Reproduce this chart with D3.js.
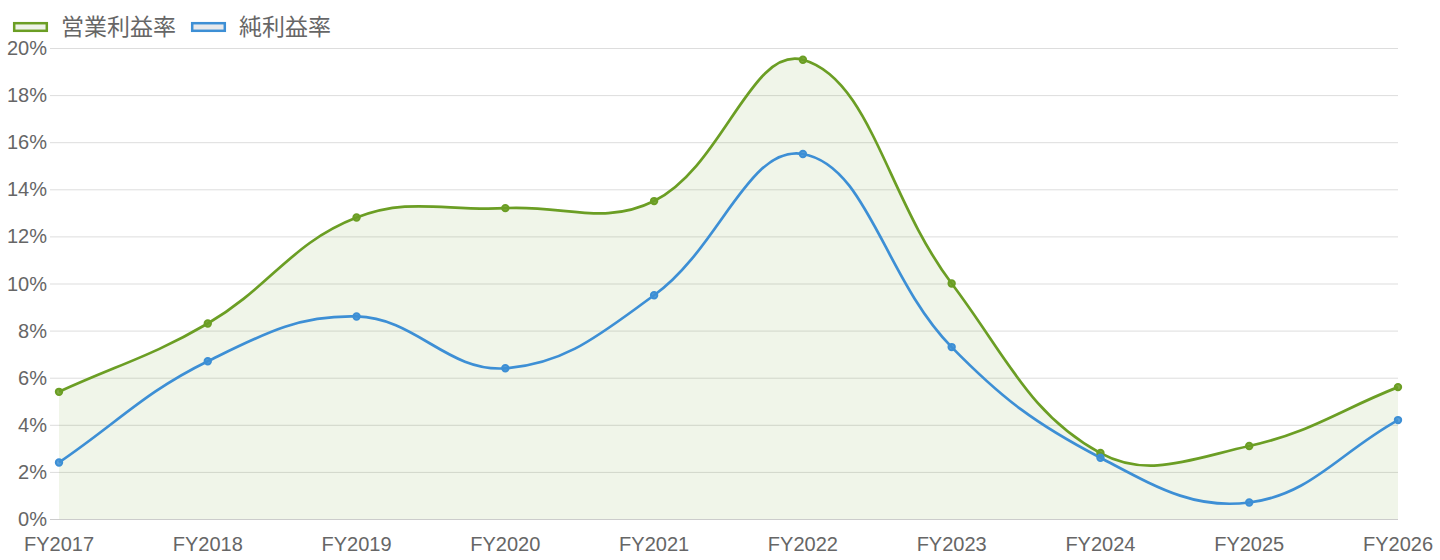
<!DOCTYPE html>
<html>
<head>
<meta charset="utf-8">
<script src="https://cdn.jsdelivr.net/npm/d3@7"></script>
<style>
  body { margin: 0; background: #fff; }
  svg { display: block; font-family: "Liberation Sans", Helvetica, Arial, "Noto Sans CJK JP", sans-serif; }
  .axis text { fill: #666; font-size: 20px; }
</style>
</head>
<body>
<svg id="chart"></svg>
<script>
const years = ['FY2017', 'FY2018', 'FY2019', 'FY2020', 'FY2021', 'FY2022', 'FY2023', 'FY2024', 'FY2025', 'FY2026'];
const operatingMargin = [5.4, 8.3, 12.8, 13.2, 13.5, 19.5, 10.0, 2.8, 3.1, 5.6];
const netMargin = [2.4, 6.7, 8.6, 6.4, 9.5, 15.5, 7.3, 2.6, 0.7, 4.2];
const yTicks = [0, 2, 4, 6, 8, 10, 12, 14, 16, 18, 20];
const seriesNames = ['営業利益率', '純利益率'];

const width = 1440;
const height = 560;
const margin = { top: 48, right: 42, bottom: 41, left: 59 };
const green = '#6b9e24';
const blue = '#3d8fd5';

const svg = d3.select('#chart').attr('width', width).attr('height', height);

const xScale = d3.scalePoint().domain(years).range([margin.left, width - margin.right]);
const yScale = d3.scaleLinear().domain([0, 20]).range([height - margin.bottom, margin.top]);

// chart.js style bezier (tension 0.4)
function splinePath(pts, tension, ctx) {
  const n = pts.length;
  const cps = pts.map((p, i) => {
    const prev = pts[Math.max(i - 1, 0)];
    const next = pts[Math.min(i + 1, n - 1)];
    const d01 = Math.hypot(p[0] - prev[0], p[1] - prev[1]);
    const d12 = Math.hypot(next[0] - p[0], next[1] - p[1]);
    let s01 = d01 / (d01 + d12);
    let s12 = d12 / (d01 + d12);
    if (isNaN(s01)) s01 = 0;
    if (isNaN(s12)) s12 = 0;
    const fa = tension * s01;
    const fb = tension * s12;
    return {
      prev: [p[0] - fa * (next[0] - prev[0]), p[1] - fa * (next[1] - prev[1])],
      next: [p[0] + fb * (next[0] - prev[0]), p[1] + fb * (next[1] - prev[1])]
    };
  });
  ctx.moveTo(pts[0][0], pts[0][1]);
  for (let i = 1; i < n; i++) {
    ctx.bezierCurveTo(cps[i - 1].next[0], cps[i - 1].next[1], cps[i].prev[0], cps[i].prev[1], pts[i][0], pts[i][1]);
  }
  return ctx;
}

const toPoints = vals => vals.map((v, i) => [xScale(years[i]), yScale(v)]);

// grid
svg.append('g')
  .selectAll('line').data(yTicks).join('line')
  .attr('x1', margin.left - 9)
  .attr('x2', width - margin.right)
  .attr('y1', d => yScale(d) + 0.5)
  .attr('y2', d => yScale(d) + 0.5)
  .attr('stroke', d => d === 0 ? '#cccccc' : '#dddddd');

// y axis labels
svg.append('g').attr('class', 'axis')
  .selectAll('text').data(yTicks).join('text')
  .attr('x', margin.left - 12)
  .attr('y', d => yScale(d))
  .attr('dy', '0.35em')
  .attr('text-anchor', 'end')
  .text(d => d + '%');

// x axis labels
svg.append('g').attr('class', 'axis')
  .selectAll('text').data(years).join('text')
  .attr('x', d => xScale(d))
  .attr('y', height - 16)
  .attr('dy', '0.35em')
  .attr('text-anchor', 'middle')
  .text(d => d);

// area under operating margin
const opPts = toPoints(operatingMargin);
const areaPath = splinePath(opPts, 0.4, d3.path());
areaPath.lineTo(opPts[opPts.length - 1][0], yScale(0));
areaPath.lineTo(opPts[0][0], yScale(0));
areaPath.closePath();
svg.append('path')
  .attr('d', areaPath.toString())
  .attr('fill', 'rgba(107, 158, 36, 0.1)');

const series = [
  { name: seriesNames[0], values: operatingMargin, color: green, bg: '#eef3e8' },
  { name: seriesNames[1], values: netMargin, color: blue, bg: '#e7e9ec' }
];

series.forEach(s => {
  const pts = toPoints(s.values);
  svg.append('path')
    .attr('d', splinePath(pts, 0.4, d3.path()).toString())
    .attr('fill', 'none')
    .attr('stroke', s.color)
    .attr('stroke-width', 2.7);
});

series.forEach(s => {
  svg.append('g').selectAll('circle').data(s.values).join('circle')
    .attr('cx', (d, i) => xScale(years[i]))
    .attr('cy', d => yScale(d))
    .attr('r', 3.2)
    .attr('fill', s.color)
    .attr('fill-opacity', 0.85)
    .attr('stroke', s.color)
    .attr('stroke-width', 2);
});

// legend
const legend = svg.append('g').attr('transform', 'translate(13, 22)');
let lx = 0;
series.forEach(s => {
  const item = legend.append('g').attr('transform', `translate(${lx}, 0)`);
  item.append('rect')
    .attr('x', 1.2).attr('y', 1.2)
    .attr('width', 32.6).attr('height', 7.6)
    .attr('fill', s.bg)
    .attr('stroke', s.color)
    .attr('stroke-width', 2.5);
  const t = item.append('text')
    .attr('x', 48).attr('y', 5)
    .attr('dy', '0.35em')
    .attr('fill', '#666')
    .style('font-size', '23px')
    .style('font-family', '"Noto Sans CJK JP", sans-serif')
    .text(s.name);
  lx += 48 + t.node().getComputedTextLength() + 15;
});
</script>
</body>
</html>
